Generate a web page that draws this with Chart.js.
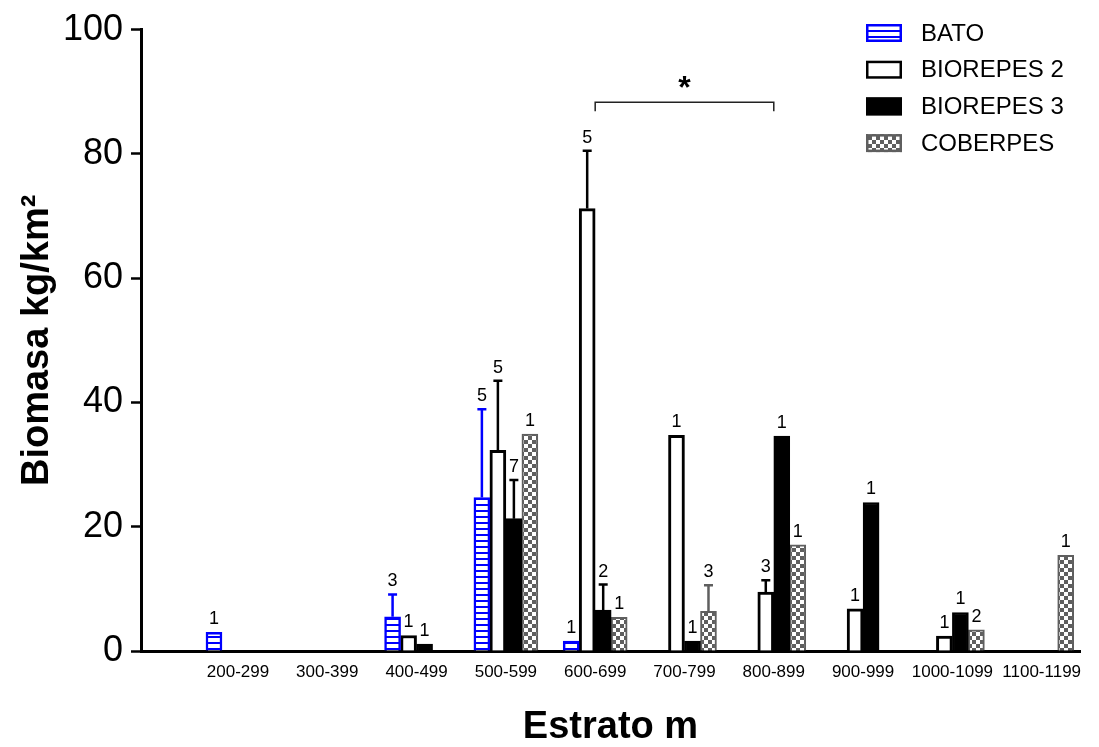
<!DOCTYPE html>
<html>
<head>
<meta charset="utf-8">
<script src="https://cdn.jsdelivr.net/npm/chart.js@4.4.1/dist/chart.umd.min.js"></script>
<style>
  html, body { margin: 0; padding: 0; background: #ffffff; }
  #wrap { width: 1099px; height: 747px; }
</style>
</head>
<body>
<div id="wrap"><canvas id="c" width="1099" height="747"></canvas></div>
<script>
// ---------------- DATA ----------------
const categories = ['200-299', '300-399', '400-499', '500-599', '600-699',
                    '700-799', '800-899', '900-999', '1000-1099', '1100-1199'];
const seriesNames = ['BATO', 'BIOREPES 2', 'BIOREPES 3', 'COBERPES'];

const bato    = [3.0, null, 5.5, 24.7, 1.6, null, null, null, null, null];
const batoErr = [null, null, 3.6, 14.2, null, null, null, null, null, null];
const batoN   = [1, null, 3, 5, 1, null, null, null, null, null];

const b2      = [null, null, 2.5, 32.3, 71.2, 34.7, 9.5, 6.8, 2.4, null];
const b2Err   = [null, null, null, 11.2, 9.3, null, 1.9, null, null, null];
const b2N     = [null, null, 1, 5, 5, 1, 3, 1, 1, null];

const b3      = [null, null, 1.1, 21.3, 6.6, 1.6, 34.6, 23.9, 6.2, null];
const b3Err   = [null, null, null, 6.2, 4.1, null, null, null, null, null];
const b3N     = [null, null, 1, 7, 2, 1, 1, 1, 1, null];

const cob     = [null, null, null, 34.9, 5.4, 6.4, 17.1, null, 3.4, 15.4];
const cobErr  = [null, null, null, null, null, 4.2, null, null, null, null];
const cobN    = [null, null, null, 1, 1, 3, 1, null, 2, 1];

const yTicks = [0, 20, 40, 60, 80, 100];

// significance bracket between groups 600-699 and 800-899
const bracketFrom = 4, bracketTo = 6, bracketLevel = 88.3, bracketLabel = '*';

// ---------------- STYLE ----------------
const FONT = "'Liberation Sans', Arial, Helvetica, sans-serif";
const canvas = document.getElementById('c');
const ctx = canvas.getContext('2d');

function stripePattern() {
  const c = document.createElement('canvas');
  c.width = 8; c.height = 6;
  const g = c.getContext('2d');
  g.fillStyle = '#ffffff'; g.fillRect(0, 0, 8, 6);
  g.fillStyle = '#0000ff'; g.fillRect(0, 0, 8, 2);
  return ctx.createPattern(c, 'repeat');
}
function checkerPattern() {
  const c = document.createElement('canvas');
  c.width = 8; c.height = 8;
  const g = c.getContext('2d');
  g.fillStyle = '#5f5f5f'; g.fillRect(0, 0, 8, 8);
  g.fillStyle = '#ffffff';
  g.fillRect(0, 0, 4, 4); g.fillRect(4, 4, 4, 4);
  return ctx.createPattern(c, 'repeat');
}

const toPts = arr => arr.map((v, i) => ({ x: i, y: v }));

const datasets = [
  { label: seriesNames[0], data: toPts(bato), backgroundColor: stripePattern(), borderColor: '#0000ff', borderWidth: 2.5,
    err: batoErr, n: batoN, errColor: '#0000ff' },
  { label: seriesNames[1], data: toPts(b2), backgroundColor: '#ffffff', borderColor: '#000000', borderWidth: 3,
    err: b2Err, n: b2N, errColor: '#000000' },
  { label: seriesNames[2], data: toPts(b3), backgroundColor: '#000000', borderColor: '#000000', borderWidth: 2,
    err: b3Err, n: b3N, errColor: '#000000' },
  { label: seriesNames[3], data: toPts(cob), backgroundColor: checkerPattern(), borderColor: '#5f5f5f', borderWidth: 2,
    err: cobErr, n: cobN, errColor: '#5f5f5f' }
];

// ---------------- PLUGINS ----------------
const errorBarPlugin = {
  id: 'errorBars',
  afterDatasetsDraw(chart) {
    const c = chart.ctx, ys = chart.scales.y;
    chart.data.datasets.forEach((ds, di) => {
      const meta = chart.getDatasetMeta(di);
      ds.data.forEach((pt, i) => {
        if (pt.y === null || pt.y === undefined) return;
        const el = meta.data[i];
        const x = el.x;
        let top = ys.getPixelForValue(pt.y);
        const e = ds.err[i];
        if (e !== null && e !== undefined) {
          const yTop = ys.getPixelForValue(pt.y + e);
          c.save();
          c.strokeStyle = ds.errColor;
          c.lineWidth = 2.5;
          c.beginPath();
          c.moveTo(x, top); c.lineTo(x, yTop);
          c.moveTo(x - 4.5, yTop); c.lineTo(x + 4.5, yTop);
          c.stroke();
          c.restore();
          top = yTop;
        }
        const n = ds.n[i];
        if (n !== null && n !== undefined) {
          c.save();
          c.fillStyle = '#000000';
          c.font = '18px ' + FONT;
          c.textAlign = 'center';
          c.textBaseline = 'alphabetic';
          c.fillText(String(n), x, top - 8);
          c.restore();
        }
      });
    });
  }
};

const bracketPlugin = {
  id: 'bracket',
  afterDatasetsDraw(chart) {
    const c = chart.ctx, xs = chart.scales.x, ys = chart.scales.y;
    const xa = xs.getPixelForValue(bracketFrom);
    const xb = xs.getPixelForValue(bracketTo);
    const y = ys.getPixelForValue(bracketLevel);
    c.save();
    c.strokeStyle = '#222222';
    c.lineWidth = 1.5;
    c.beginPath();
    c.moveTo(xa, y + 9); c.lineTo(xa, y); c.lineTo(xb, y); c.lineTo(xb, y + 9);
    c.stroke();
    c.fillStyle = '#000000';
    c.font = 'bold 32px ' + FONT;
    c.textAlign = 'center';
    c.textBaseline = 'alphabetic';
    c.fillText(bracketLabel, (xa + xb) / 2, y - 4);
    c.restore();
  }
};

const legendPlugin = {
  id: 'boxLegend',
  afterDraw(chart) {
    const c = chart.ctx;
    const boxX = 866, boxW = 36, boxH = 18, textX = 921, y0 = 33, dy = 36.7;
    chart.data.datasets.forEach((ds, i) => {
      const cy = y0 + i * dy;
      c.save();
      c.fillStyle = ds.backgroundColor;
      c.fillRect(boxX, cy - boxH / 2, boxW, boxH);
      c.strokeStyle = ds.borderColor;
      c.lineWidth = 2.5;
      c.strokeRect(boxX + 1.25, cy - boxH / 2 + 1.25, boxW - 2.5, boxH - 2.5);
      c.fillStyle = '#000000';
      c.font = '24px ' + FONT;
      c.textAlign = 'left';
      c.textBaseline = 'middle';
      c.fillText(ds.label, textX, cy + 1);
      c.restore();
    });
  }
};

// ---------------- CHART ----------------
new Chart(ctx, {
  type: 'bar',
  data: { datasets },
  options: {
    responsive: false,
    animation: false,
    devicePixelRatio: 1,
    layout: { padding: { top: 26, right: 19, bottom: 0, left: 0 } },
    datasets: { bar: { barThickness: 16, grouped: true } },
    plugins: { legend: { display: false }, tooltip: { enabled: false } },
    scales: {
      x: {
        type: 'linear',
        min: -1.086,
        max: 9.429,
        bounds: 'data',
        offset: false,
        afterBuildTicks: s => { s.ticks = categories.map((_, i) => ({ value: i })); },
        ticks: {
          autoSkip: false, maxRotation: 0, minRotation: 0, padding: 11, color: '#000000',
          font: { family: FONT, size: 17 },
          callback: v => categories[v]
        },
        grid: { display: true, offset: false, drawOnChartArea: false, drawTicks: false },
        border: { display: true, color: '#000000', width: 3 },
        title: {
          display: true, text: 'Estrato m', color: '#000000',
          font: { family: FONT, size: 38, weight: 'bold', lineHeight: 1 },
          padding: { top: 0, bottom: 0 }
        },
        afterFit: s => { s.height = 96; }
      },
      y: {
        min: 0, max: 100,
        afterBuildTicks: s => { s.ticks = yTicks.map(v => ({ value: v })); },
        ticks: { padding: 8, color: '#000000', font: { family: FONT, size: 36 } },
        grid: { display: true, drawOnChartArea: false, drawTicks: true, tickLength: 10, tickWidth: 2.5, tickColor: '#000000' },
        border: { display: true, color: '#000000', width: 3 },
        title: {
          display: true, text: 'Biomasa kg/km²', color: '#000000',
          font: { family: FONT, size: 38, weight: 'bold', lineHeight: 1.2 },
          padding: { top: 15, bottom: 0 }
        },
        afterFit: s => { s.width = 141; }
      }
    }
  },
  plugins: [errorBarPlugin, bracketPlugin, legendPlugin]
});
</script>
</body>
</html>
